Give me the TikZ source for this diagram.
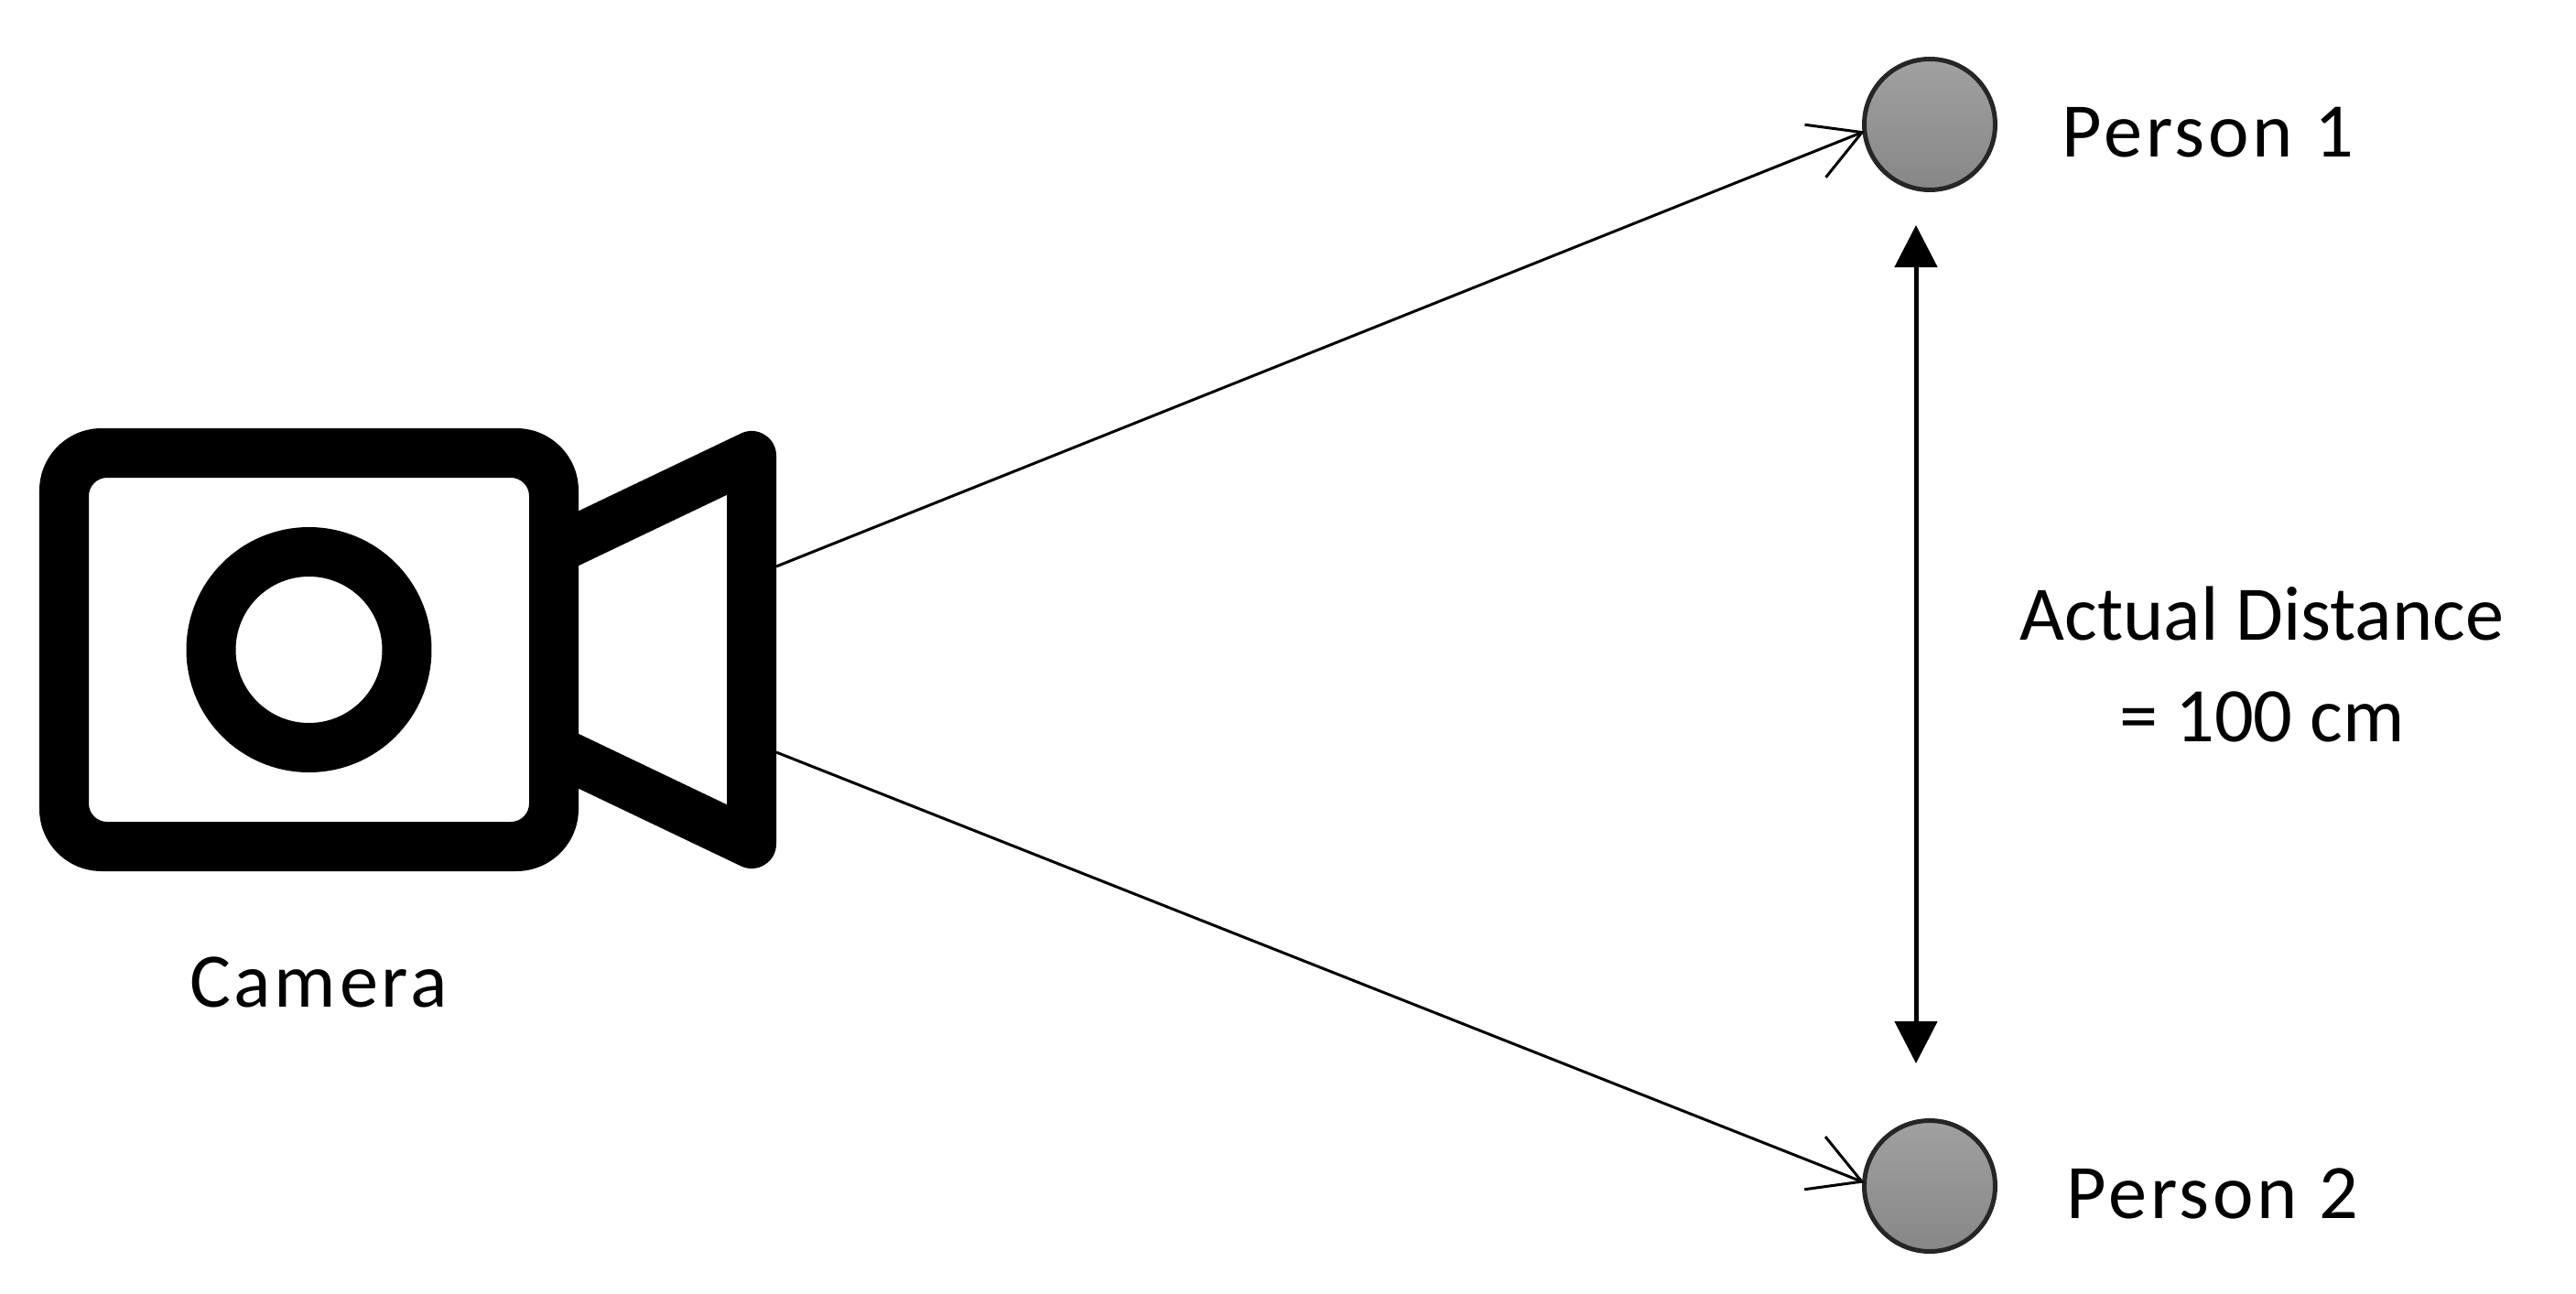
\documentclass[tikz,border=0pt]{standalone}
\usepackage{fontspec}
\setmainfont{Carlito}
\usepackage{tikz}
\usetikzlibrary{arrows.meta, positioning, calc}
\definecolor{personGray}{HTML}{969696}

\begin{document}
\begin{tikzpicture}[
  camline/.style={line width=0.54cm, line join=round, black},
  person/.style={circle, draw=black!85, line width=0.05cm, top color=personGray!90!white, bottom color=personGray!90!black, inner sep=0pt, outer sep=0pt, minimum size=1.43cm},
  label/.style={font=\fontsize{24}{31.6}\selectfont, text=black, align=center, inner sep=0pt},
  widelabel/.style={label, font=\fontsize{24}{31.6}\selectfont\addfontfeature{LetterSpace=4.5}},
  sight/.style={-{Straight Barb[length=0.55cm, width=0.62cm, line width=0.03cm]}, line width=0.03cm},
  span/.style={{Triangle[length=0.46cm, width=0.46cm]}-{Triangle[length=0.46cm, width=0.46cm]}, line width=0.05cm},
]
  \useasboundingbox (0, 0) rectangle (28.14, 14.13);

  % Camera
  \fill[black, even odd rule, rounded corners=0.68cm] (0.43, 9.45) rectangle (6.32, 4.61)
    [rounded corners=0.2cm] (0.97, 8.91) rectangle (5.78, 5.15);
  \draw[camline] (3.375, 7.03) circle (1.07);
  \draw[camline] (6.20, 8.19) -- (8.21, 9.15) -- (8.21, 4.91) -- (6.20, 5.87);
  \coordinate (camtop) at (8.48, 7.94);
  \coordinate (cambot) at (8.48, 5.91);
  \node[widelabel, anchor=base] (cameralabel) at (3.48, 3.13) {Camera};

  % People
  \node[person] (person1) at (21.08, 12.77) {};
  \node[person] (person2) at (21.08, 1.17) {};
  \node[widelabel, anchor=base west] (person1label) at (22.52, 12.42) {Person 1};
  \node[widelabel, anchor=base west] (person2label) at (22.57, 0.82) {Person 2};

  % Distance
  \coordinate (disttop) at (20.93, 11.67);
  \coordinate (distbot) at (20.93, 2.51);
  \node[label] (distlabel) at (24.71, 6.87) {Actual Distance\\= 100 cm};

  % Connectors
  \draw[sight] (camtop) -- (person1.186);
  \draw[sight] (cambot) -- (person2.177);
  \draw[span] (disttop) -- (distbot);
\end{tikzpicture}
\end{document}
